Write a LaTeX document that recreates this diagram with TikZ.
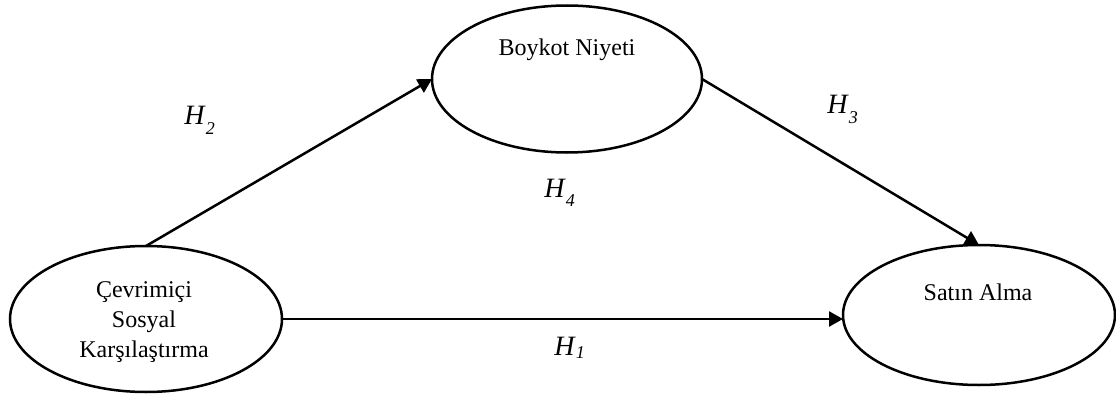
\documentclass[tikz,border=0pt]{standalone}
\usepackage{fontspec}
\setmainfont{Liberation Serif}
\usetikzlibrary{arrows.meta, shapes.geometric}

\newcommand{\hyp}[2][-5pt]{{\fontsize{14}{14}\selectfont\textit{H}}\raisebox{#1}{\fontsize{9}{9}\selectfont\textit{#2}}}

\tikzset{
  construct/.style={ellipse, draw, line width=1.25pt, inner sep=0pt, outer sep=0pt},
  path/.style={line width=1.25pt, -{Triangle[length=7pt, width=7.5pt]}},
  hlabel/.style={anchor=base west, inner sep=0pt},
  words/.style={align=center, font=\fontsize{12}{15}\selectfont}
}

\begin{document}
\begin{tikzpicture}[x=0.5pt, y=-0.5pt, font=\fontsize{12}{15}\selectfont]

\useasboundingbox (0,0) rectangle (1116,396);

% constructs
\node[construct, minimum width=136pt, minimum height=73pt] (cev) at (146,319) {};
\node[words] (cevtext) at (144,322) {Çevrimiçi\\Sosyal\\Karşılaştırma};

\node[construct, minimum width=135pt, minimum height=73.5pt] (boykot) at (567,79) {};
\node[words] (boykottext) at (567,50) {Boykot Niyeti};

\node[construct, minimum width=136pt, minimum height=70pt] (satin) at (979,315) {};
\node[words] (satintext) at (978,292) {Satın Alma};

% hypotheses
\draw[path] (cev.north) -- (boykot.west);
\draw[path] (boykot.east) -- (satin.north);
\draw[path] (cev.east) -- (cev.east -| satin.west);

\node[hlabel] (h2) at (184,125) {\hyp{2}};
\node[hlabel] (h3) at (827,113) {\hyp{3}};
\node[hlabel] (h4) at (544,197) {\hyp{4}};
\node[hlabel] (h1) at (554,355) {\hyp[-1.5pt]{1}};

\end{tikzpicture}
\end{document}
